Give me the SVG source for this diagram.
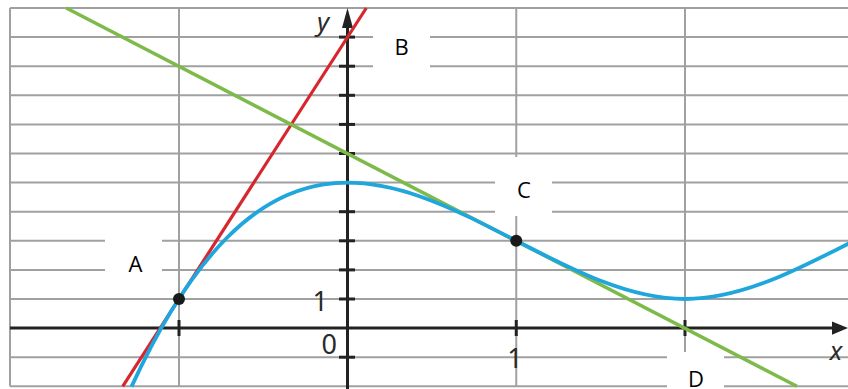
<svg xmlns="http://www.w3.org/2000/svg" width="848" height="389" viewBox="0 0 848 389">
<defs>
<style>
.grid line{stroke:#a0a0a0;stroke-width:2}
.box{fill:#ffffff}
.lbl{font-family:"Open Sans","Liberation Sans",Arial,sans-serif;font-size:22px;fill:#000;text-anchor:middle}
.ax{stroke:#222;stroke-width:3;fill:none}
.tick{stroke:#222;stroke-width:3}
.num{font-family:"Noto Sans","Open Sans",sans-serif;font-size:27px;fill:#2a2a2a}
.var{font-family:"Noto Sans","Open Sans",sans-serif;font-size:26px;font-style:italic;fill:#2a2a2a;text-anchor:middle}
.dot{fill:#1a1a1a}
</style>
</defs>
<rect width="848" height="389" fill="#ffffff"/>
<g id="grid" class="grid">
<line x1="10" y1="8" x2="848" y2="8"/>
<line x1="10" y1="37.1" x2="848" y2="37.1"/>
<line x1="10" y1="66.2" x2="848" y2="66.2"/>
<line x1="10" y1="95.3" x2="848" y2="95.3"/>
<line x1="10" y1="124.4" x2="848" y2="124.4"/>
<line x1="10" y1="153.5" x2="848" y2="153.5"/>
<line x1="10" y1="182.6" x2="848" y2="182.6"/>
<line x1="10" y1="211.7" x2="848" y2="211.7"/>
<line x1="10" y1="240.8" x2="848" y2="240.8"/>
<line x1="10" y1="269.9" x2="848" y2="269.9"/>
<line x1="10" y1="299" x2="848" y2="299"/>
<line x1="10" y1="357.2" x2="848" y2="357.2"/>
<line x1="10" y1="386.3" x2="848" y2="386.3"/>
<line x1="10" y1="8" x2="10" y2="386.3"/>
<line x1="179" y1="8" x2="179" y2="386.3"/>
<line x1="516.25" y1="8" x2="516.25" y2="386.3"/>
<line x1="685" y1="8" x2="685" y2="386.3"/>
</g>
<g id="axes">
<line class="ax" x1="10" y1="328.1" x2="834" y2="328.1"/>
<polygon points="848,328.1 832,321.5 832,334.7" fill="#222"/>
<line class="ax" x1="347.5" y1="389" x2="347.5" y2="26"/>
<polygon points="347.5,8 342,28 353,28" fill="#222"/>
<g class="tick">
<line x1="339" y1="37.1" x2="355" y2="37.1"/>
<line x1="339" y1="66.2" x2="355" y2="66.2"/>
<line x1="339" y1="95.3" x2="355" y2="95.3"/>
<line x1="339" y1="124.4" x2="355" y2="124.4"/>
<line x1="339" y1="153.5" x2="355" y2="153.5"/>
<line x1="339" y1="182.6" x2="355" y2="182.6"/>
<line x1="339" y1="211.7" x2="355" y2="211.7"/>
<line x1="339" y1="240.8" x2="355" y2="240.8"/>
<line x1="339" y1="269.9" x2="355" y2="269.9"/>
<line x1="339" y1="299" x2="355" y2="299"/>
<line x1="339" y1="357.2" x2="355" y2="357.2"/>
<line x1="179" y1="320" x2="179" y2="336"/>
<line x1="516.25" y1="320" x2="516.25" y2="336"/>
<line x1="685" y1="320" x2="685" y2="336"/>
</g>
<text class="var" x="323" y="31">y</text>
<text class="var" x="836" y="360">x</text>
<text class="num" x="328" y="311" text-anchor="end">1</text>
<text class="num" x="337" y="354" text-anchor="end">0</text>
<text class="num" x="515" y="368" text-anchor="middle">1</text>
</g>
<g id="connectors">
<line id="tangent-A" x1="122.7" y1="386.3" x2="366.3" y2="8" stroke="#d7262e" stroke-width="3.2"/>
<line id="tangent-C" x1="66.25" y1="8" x2="796.9" y2="386.3" stroke="#7dba4a" stroke-width="3.5"/>
<path id="curve" d="M131.5,386.65 C316,-14.06 500.5,299 685,299 C741.25,299 797.5,269.9 853.75,240.8" fill="none" stroke="#1ea6dd" stroke-width="3.8"/>
</g>
<g id="point-A"><circle class="dot" cx="179" cy="299" r="6"/></g>
<g id="point-C"><circle class="dot" cx="516.25" cy="240.8" r="6"/></g>
<g id="label-A"><rect class="box" x="105" y="232" width="57" height="59"/><text class="lbl" x="135.5" y="272">A</text></g>
<g id="label-B"><rect class="box" x="373" y="20" width="57" height="59"/><text class="lbl" x="401.5" y="55">B</text></g>
<g id="label-C"><rect class="box" x="495" y="157" width="57" height="59"/><text class="lbl" x="524" y="197.5">C</text></g>
<g id="label-D"><rect class="box" x="667" y="352" width="57" height="40"/><text class="lbl" x="696" y="386.5">D</text></g>
</svg>
